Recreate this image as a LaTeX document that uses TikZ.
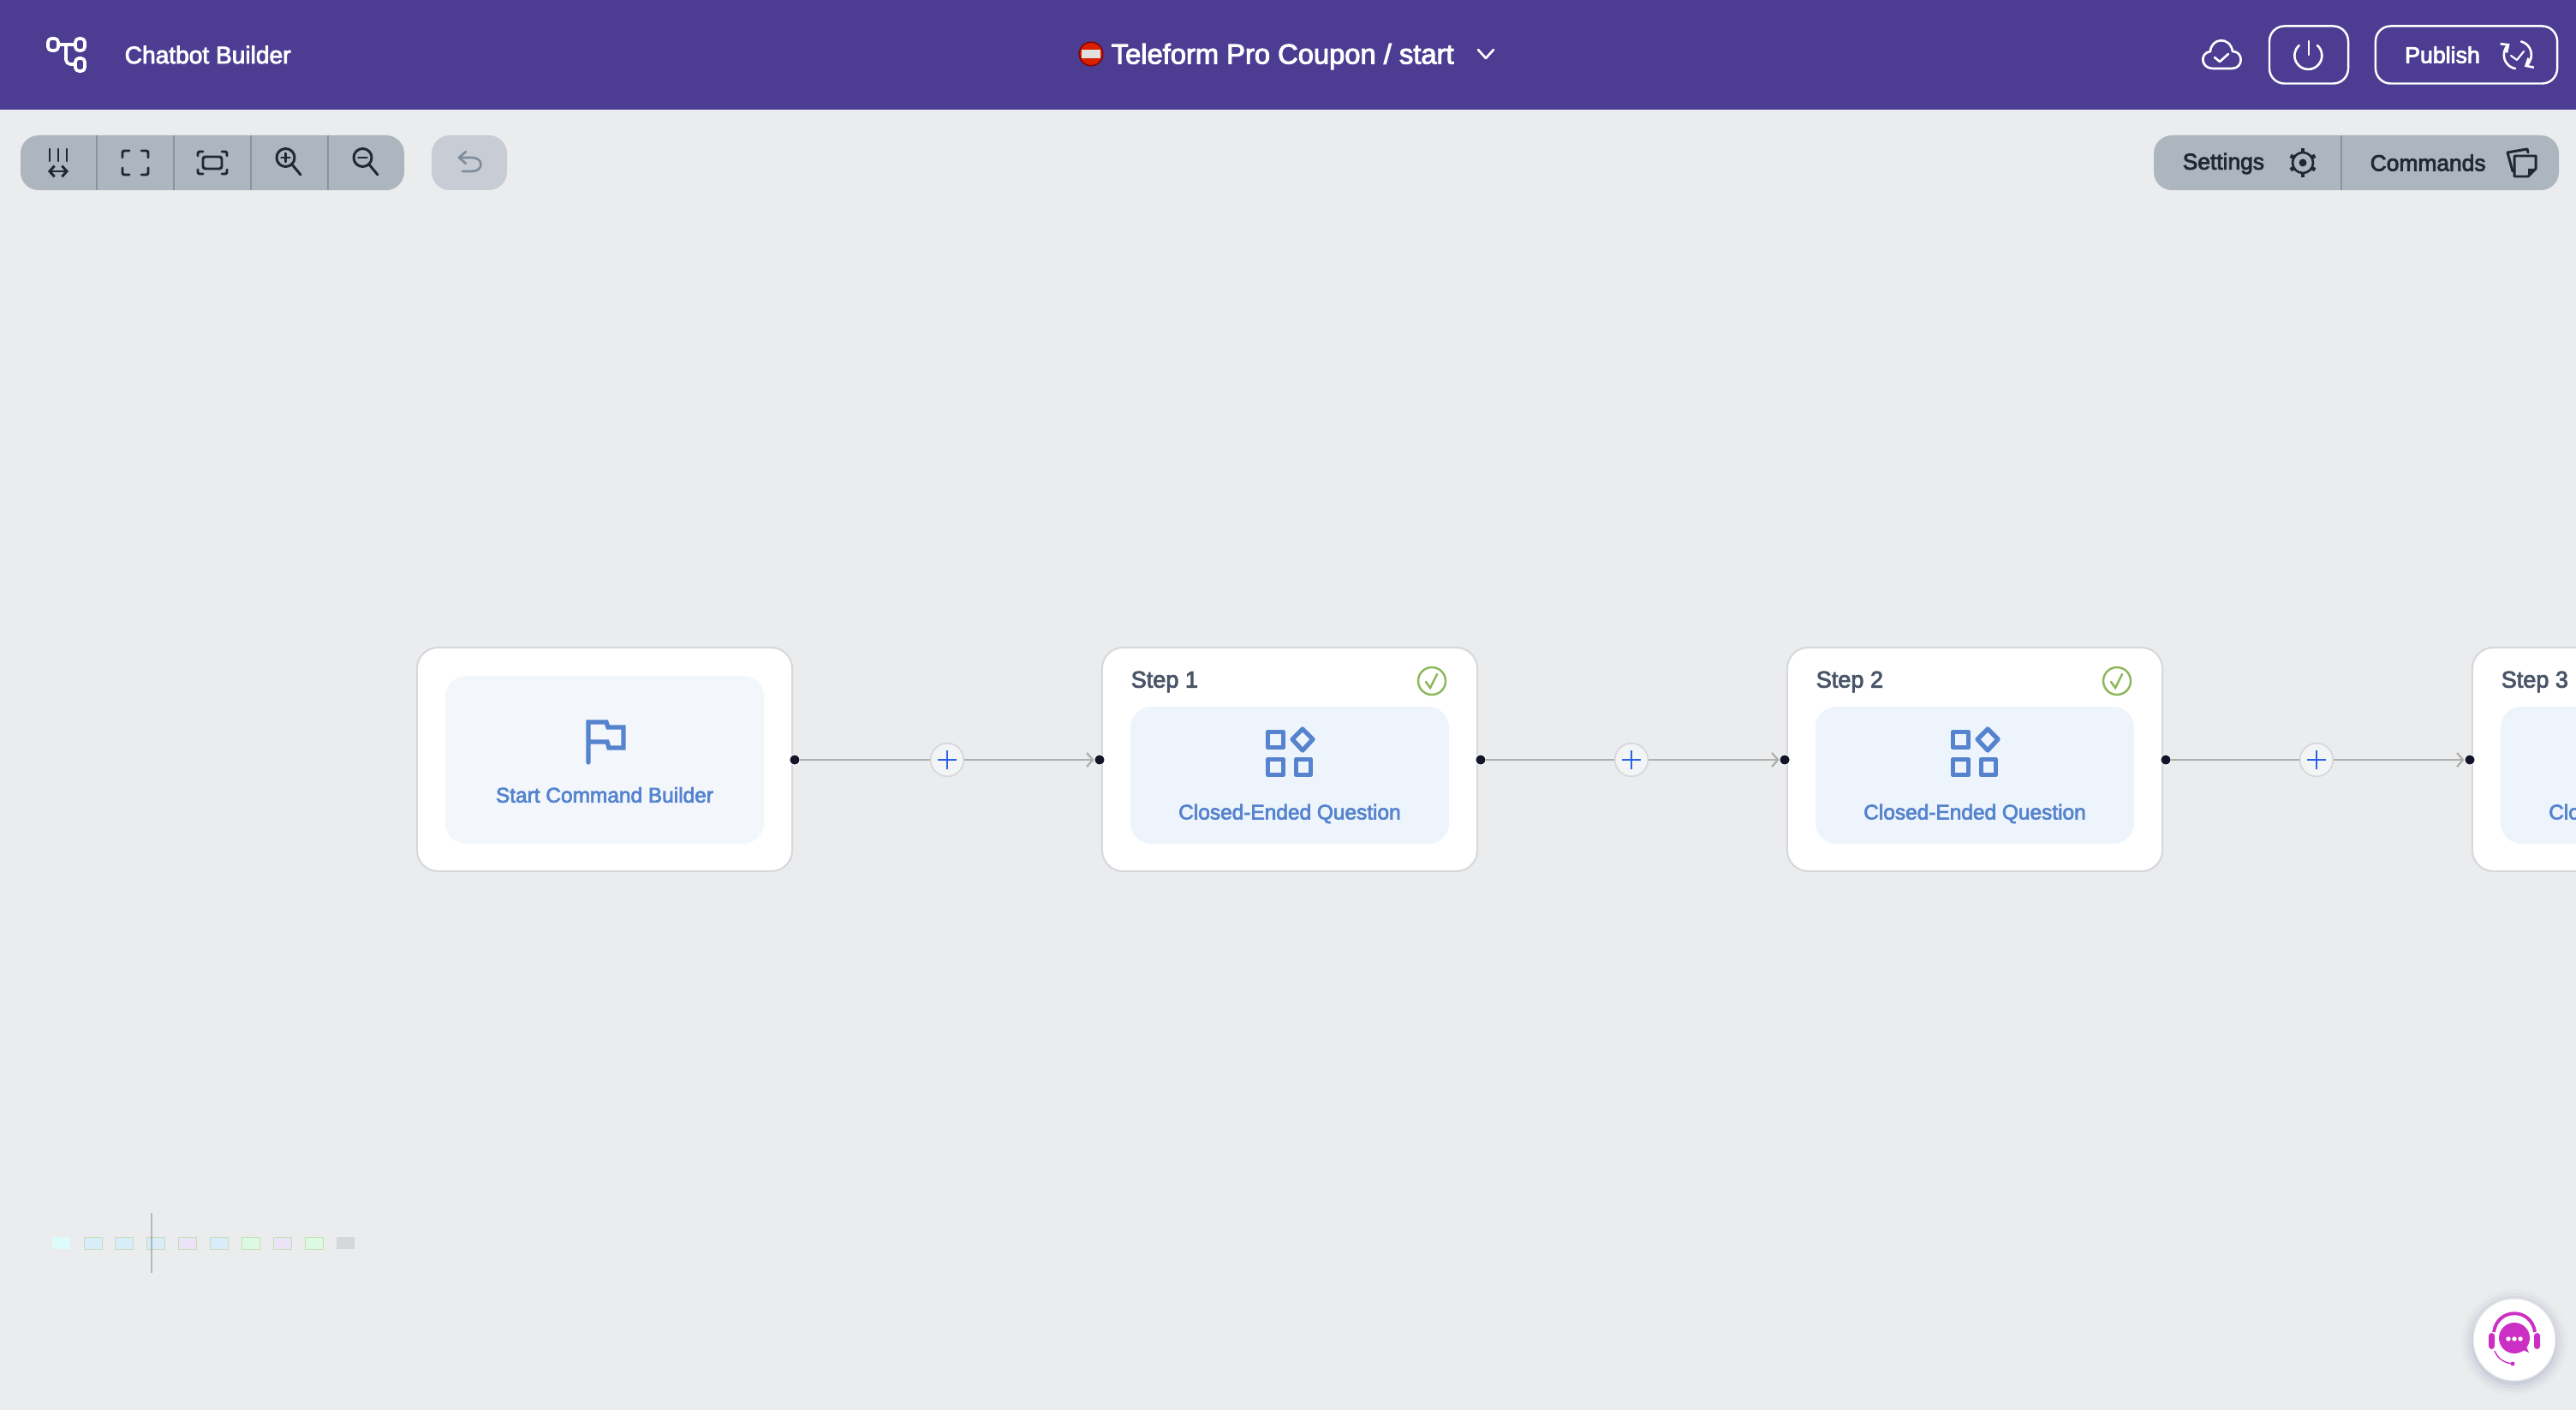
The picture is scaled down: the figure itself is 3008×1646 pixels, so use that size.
\documentclass[tikz,border=0pt]{standalone}
\usepackage{fontspec}
\setmainfont{Liberation Sans}[FakeBold=3]
\usepackage{tikz}
\usetikzlibrary{positioning}
\usetikzlibrary{calc}
\usetikzlibrary{arrows.meta}
\definecolor{barcol}{HTML}{4C3C92}
\definecolor{pagecol}{HTML}{EAECEE}
\definecolor{toolcol}{HTML}{ADB5BE}
\definecolor{sepcol}{HTML}{8694A2}
\definecolor{undocol}{HTML}{C8CDD5}
\definecolor{undoline}{HTML}{7F8C9C}
\definecolor{inkcol}{HTML}{1F2933}
\definecolor{cardline}{HTML}{D6D8DB}
\definecolor{startcol}{HTML}{F3F7FC}
\definecolor{stepcol}{HTML}{EDF4FC}
\definecolor{labelcol}{HTML}{5583CE}
\definecolor{steptext}{HTML}{4A5568}
\definecolor{okcol}{HTML}{8DB75B}
\definecolor{plusline}{HTML}{2B63E8}
\definecolor{wirecol}{HTML}{AFAFAF}
\definecolor{dotcol}{HTML}{14142B}
\definecolor{botcol}{HTML}{CB2FC4}
\definecolor{mapline}{HTML}{C6DDB4}
\definecolor{mapcyan}{HTML}{DDFBFA}
\definecolor{mapblue}{HTML}{D9ECF9}
\definecolor{mappurple}{HTML}{ECE3F8}
\definecolor{mapgreen}{HTML}{DCF9E2}
\definecolor{mapgrey}{HTML}{D5D8DB}
\tikzset{>=latex}
\tikzset{
  cardbox/.style={draw=cardline,fill=white,line width=0.6pt,rounded corners=7pt,
    minimum width=4.38cm,minimum height=2.61cm,inner sep=0pt},
  innerbox/.style={fill=#1,rounded corners=7pt,minimum width=3.72cm,inner sep=0pt},
  whitetext/.style={text=white,inner sep=0pt,font=\fontsize{8.0}{10}\selectfont},
  inktext/.style={text=inkcol,inner sep=0pt,font=\fontsize{7.5}{10}\selectfont},
  bluetext/.style={text=labelcol,inner sep=0pt,font=\fontsize{6.95}{9}\selectfont},
  steplabel/.style={text=steptext,inner sep=0pt,anchor=west,font=\fontsize{7.7}{10}\selectfont},
  portdot/.style={circle,fill=dotcol,draw=white,line width=0.25pt,minimum size=3.4pt,inner sep=0pt},
  plusbtn/.style={circle,fill=pagecol!60!white,draw=cardline,line width=0.5pt,minimum size=11pt,inner sep=0pt},
  wire/.style={draw=wirecol,line width=0.65pt},
  whiteicon/.style={draw=white,line width=0.75pt,line cap=round,line join=round},
  inkicon/.style={draw=inkcol,line width=0.85pt,line cap=round,line join=round},
  blueicon/.style={draw=labelcol,line width=1.5pt,line join=round}
}

\begin{document}
\begin{tikzpicture}[x=0.01cm,y=-0.01cm]

\useasboundingbox (0,0) rectangle (3008,1646);
\clip (0,0) rectangle (3008,1646);
\fill[pagecol] (0,0) rectangle (3008,1646);

% ---------------- Top bar ----------------
\fill[barcol] (0,0) rectangle (3008,128);

% logo
\draw[whiteicon,line width=1.05pt,rounded corners=1.2pt] (56,45) rectangle (68,59);
\draw[whiteicon,line width=1.05pt,rounded corners=1.2pt] (88,45) rectangle (99,59);
\draw[whiteicon,line width=1.05pt,rounded corners=1.2pt] (88,68) rectangle (99,83);
\draw[whiteicon,line width=1.05pt] (68,52) -- (88,52);
\draw[whiteicon,line width=1.05pt,rounded corners=1.5pt] (77,52) -- (77,75) -- (88,75);
\node[whitetext,anchor=west] (brand) at (145,64) {Chatbot Builder};

% title with its no-entry mark
\fill[red!55!black] (1274,63) circle[radius=14.5];
\fill[red!70!orange!85!black] (1274,63) circle[radius=13];
\fill[white!88!black] (1263,58) rectangle (1285,68);
\node[whitetext,anchor=west,font=\fontsize{9.3}{11}\selectfont] (title) at (1297,66) {Teleform Pro Coupon / start};
\draw[whiteicon] (1726,58) -- (1735,68) -- (1744,58);

% cloud
\draw[whiteicon] (2584,80) -- (2606,80)
  .. controls (2620,80) and (2620,60) .. (2607,60)
  .. controls (2604,42) and (2582,44) .. (2581,60)
  .. controls (2568,62) and (2570,80) .. (2584,80) -- cycle;
\draw[whiteicon] (2586,67) -- (2592,72) -- (2602,63);

% power and publish buttons
\node[draw=white,line width=0.7pt,rounded corners=5pt,minimum width=0.92cm,minimum height=0.67cm] (power) at (2696,64) {};
\draw[whiteicon] (2696,48) -- (2696,64);
\draw[whiteicon] (2706,53) arc[start angle=-48,end angle=228,radius=16];
\node[draw=white,line width=0.7pt,rounded corners=5pt,minimum width=2.12cm,minimum height=0.67cm] (publish) at (2880,64) {};
\node[whitetext,font=\fontsize{7.6}{10}\selectfont] (publishtext) at (2852,64) {Publish};
\draw[whiteicon,-{Straight Barb[length=2pt,width=3.6pt]}] (2937,80) arc[start angle=100,end angle=235,radius=16];
\draw[whiteicon,-{Straight Barb[length=2pt,width=3.6pt]}] (2944,48.5) arc[start angle=-75,end angle=60,radius=16];
\draw[whiteicon,line width=0.6pt] (2932,65) -- (2939,70) -- (2947,60);

% ---------------- Left tools ----------------
\fill[toolcol,rounded corners=6pt] (24,158) rectangle (472,222);
\foreach \x in {113,203,293,383}{
  \draw[sepcol,line width=0.55pt] (\x,158) -- (\x,222);
}
% fit width
\foreach \x in {58,68,78}{
  \draw[inkicon] (\x,174) -- (\x,188);
}
\draw[inkicon,<->,>={Straight Barb[length=1.6pt,width=3.6pt]}] (56,200) -- (80,200);
% full screen
\foreach \sx/\sy in {1/1,-1/1,1/-1,-1/-1}{
  \draw[inkicon,rounded corners=0.6pt] (158-15*\sx,190-6*\sy) -- (158-15*\sx,190-14*\sy) -- (158-7*\sx,190-14*\sy);
}
% fit screen
\foreach \sx/\sy in {1/1,-1/1,1/-1,-1/-1}{
  \draw[inkicon,rounded corners=0.6pt] (248-17*\sx,190-8*\sy) -- (248-17*\sx,190-13*\sy) -- (248-11*\sx,190-13*\sy);
}
\draw[inkicon,rounded corners=0.8pt] (237,183) rectangle (259,197);
% zoom in
\draw[inkicon] (333.5,184) circle[radius=10.5];
\draw[inkicon] (341,192) -- (351,204);
\draw[inkicon] (328.5,184) -- (338.5,184);
\draw[inkicon] (333.5,179) -- (333.5,189);
% zoom out
\draw[inkicon] (423.5,184) circle[radius=10.5];
\draw[inkicon] (431,192) -- (441,204);
\draw[inkicon] (418.5,184) -- (428.5,184);

% undo
\fill[undocol,rounded corners=6pt] (504,158) rectangle (592,222);
\draw[undoline,line width=0.75pt,line cap=round,line join=round] (544,177) -- (536,184) -- (544,191);
\draw[undoline,line width=0.75pt,line cap=round] (537,184) -- (551,184)
  .. controls (565,184) and (565,200) .. (551,200) -- (540,200);

% ---------------- Right tools ----------------
\fill[toolcol,rounded corners=6pt] (2515,158) rectangle (2988,222);
\draw[sepcol,line width=0.55pt] (2734,158) -- (2734,222);
\node[inktext,anchor=west] (settings) at (2548,191) {Settings};
\node[inktext,anchor=west] (commands) at (2767,190) {Commands};

% gear
\draw[inkicon,line width=0.75pt] (2689,190) circle[radius=12];
\fill[inkcol] (2689,190) circle[radius=4.5];
\foreach \a in {0,60,...,300}{
  \draw[inkcol,line width=1.3pt] ($(2689,190)+(\a+90:0.12cm)$) -- ($(2689,190)+(\a+90:0.165cm)$);
}

% sheets
\draw[inkicon] (2936,206) -- (2936,184) .. controls (2936,182) .. (2938,182) -- (2961,182) -- (2961,197) -- (2952,206) -- cycle;
\fill[inkcol] (2961,197) -- (2952,206) -- (2952,197) -- cycle;
\draw[inkicon] (2934,200) -- (2928,178) -- (2951,174) -- (2952,178);

% ---------------- Cards ----------------
% x of the icon, left at the card centre
\def\qicon#1{
  \draw[blueicon] (#1-25.5,854.5) rectangle (#1-7.5,872.5);
  \draw[blueicon] (#1-25.5,886.5) rectangle (#1-7.5,904.5);
  \draw[blueicon] (#1+7.5,886.5) rectangle (#1+24.5,904.5);
  \draw[blueicon] (#1+15,851) -- (#1+27,863) -- (#1+15,876) -- (#1+3,863) -- cycle;
}

\node[cardbox] (card0) at (706,886.5) {};
\node[innerbox=startcol,minimum height=1.96cm] (inner0) at (706,887) {};
\draw[blueicon,line cap=round,line join=miter] (687,890) -- (687,843) -- (708,843) -- (710,849) -- (728,849)
  -- (728,873) -- (711,873) -- (709,866) -- (687,866);
\node[bluetext] (label0) at (706,928) {Start Command Builder};

\foreach \n/\cx in {1/1506,2/2306,3/3106}{
  \node[cardbox] (card\n) at (\cx,886.5) {};
  \node[steplabel] (step\n) at (\cx-186,796) {Step \n};
  \node[innerbox=stepcol,minimum height=1.6cm] (inner\n) at (\cx,905) {};
  \node[bluetext] (label\n) at (\cx,950) {Closed-Ended Question};
  \draw[okcol,line width=0.7pt] (\cx+166,795) circle[radius=16];
  \draw[okcol,line width=0.7pt,line cap=round] (\cx+159,796) -- (\cx+164,803) -- (\cx+172,787);
  \qicon{\cx}
}

% ---------------- Connectors ----------------
\foreach \a/\b/\xa/\xp/\xb in {0/1/928/1106/1284,1/2/1729/1905/2084,2/3/2529/2705/2884}{
  \node[portdot] (out\a) at (\xa,887) {};
  \node[portdot] (in\b) at (\xb,887) {};
  \node[plusbtn] (add\a) at (\xp,887) {};
  \draw[wire] (out\a) -- (add\a);
  \draw[wire,-{Straight Barb[length=2pt,width=4.6pt]}] (add\a) -- (in\b);
  \draw[plusline,line width=0.6pt] (\xp-11,887) -- (\xp+11,887);
  \draw[plusline,line width=0.6pt] (\xp,876) -- (\xp,898);
}

% ---------------- Minimap ----------------
\fill[mapcyan] (61,1444) rectangle (82,1458);
\foreach \x/\c in {98/mapblue,134/mapblue,171/mapblue,208/mappurple,245/mapblue,282/mapgreen,319/mappurple,356/mapgreen}{
  \draw[mapline,fill=\c,line width=0.28pt] (\x,1444.5) rectangle ++(21,13.5);
}
\fill[mapgrey] (393,1444) rectangle (414,1458);
\draw[black,opacity=0.22,line width=0.3pt] (177,1416) -- (177,1486);

% ---------------- Help button ----------------
\foreach \r/\o in {62/0.015,58/0.025,54/0.035,50/0.05}{
  \fill[black!60!blue,opacity=\o] (2936,1567) circle[radius=\r];
}
\node[circle,fill=white,draw=cardline!70!white,line width=0.3pt,minimum size=0.96cm,inner sep=0pt] (help) at (2936,1564) {};
\fill[botcol] (2936,1562) circle[radius=18];
\fill[botcol] (2942,1574) -- (2953,1579) -- (2948,1568) -- cycle;
\foreach \x in {2929,2936,2943}{
  \fill[white] (\x,1563) circle[radius=2.7];
}
\draw[botcol,line width=1.1pt] (2912,1555) .. controls (2916,1526) and (2956,1526) .. (2960,1555);
\fill[botcol,rounded corners=1pt] (2906,1556) rectangle (2913,1575);
\fill[botcol,rounded corners=1pt] (2959,1556) rectangle (2966,1575);
\draw[botcol,line width=0.4pt] (2913,1577) .. controls (2917,1587) and (2925,1591) .. (2934,1592);
\fill[botcol] (2934,1592) circle[radius=2.5];

\end{tikzpicture}
\end{document}
